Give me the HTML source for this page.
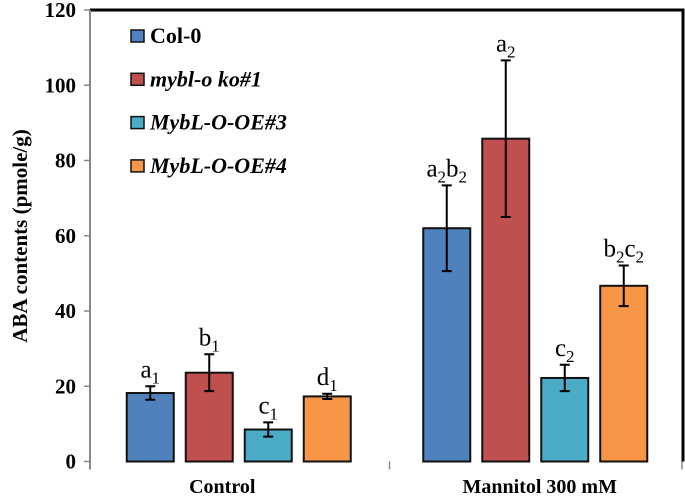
<!DOCTYPE html>
<html><head><meta charset="utf-8"><style>
body{margin:0;background:#fff}
svg{display:block}
text{font-family:"Liberation Serif","Times New Roman",serif}
</style></head><body>
<svg width="685" height="499" id="c" font-family="Liberation Serif, serif">
<g id="g"></g>
</svg>
<script>
const categories=["Control","Mannitol 300 mM"];
const seriesNames=["Col-0","mybl-o ko#1","MybL-O-OE#3","MybL-O-OE#4"];
const colors=["#4f81bd","#c0504d","#4bacc6","#f79646"];
const valsCol0=[18.2,62];
const valsKo=[23.6,85.8];
const valsOE3=[8.5,22.2];
const valsOE4=[17.3,46.7];
const errCol0=[1.8,11.4];
const errKo=[4.9,20.8];
const errOE3=[1.9,3.5];
const errOE4=[0.7,5.4];
const letters=[[[["a","1"]],[["a","2"],["b","2"]]],[[["b","1"]],[["a","2"]]],[[["c","1"]],[["c","2"]]],[[["d","1"]],[["b","2"],["c","2"]]]];
const yTicks=[0,20,40,60,80,100,120];
const series=[valsCol0,valsKo,valsOE3,valsOE4];
const errs=[errCol0,errKo,errOE3,errOE4];

const X0=90,X1=683,Y0=461.5,Y1=10;
const y=v=>Y0-(v/120)*(Y0-Y1);
const catW=(X1-X0)/categories.length;
const barW=47,stride=59;
const bx=(c,s)=>X0+c*catW+catW/2-2*stride+s*stride+6-barW/2+24;
const g=document.getElementById('g');const NS="http://www.w3.org/2000/svg";
const SERIF="Liberation Serif, serif";
function mk(t,a,p){const e=document.createElementNS(NS,t);for(const k in a)e.setAttribute(k,a[k]);if(t=='text'||t=='tspan')e.setAttribute('font-family',SERIF);(p||g).appendChild(e);return e;}
let e=mk('path',{d:`M${X0} ${Y1}H${X1}V${Y0}`,fill:'none',stroke:'#000','stroke-width':3});


yTicks.forEach(t=>{
 let l=mk('line',{x1:X0-6,x2:X0,y1:y(t),y2:y(t),stroke:'#888','stroke-width':1.5});
 
 
 let tx=mk('text',{x:X0-14,y:y(t)+7,'text-anchor':'end','font-size':21,'font-weight':'bold'});
 tx.textContent=t;
 
 
});
e=mk('line',{x1:X0,x2:X0,y1:Y1,y2:Y0+8,stroke:'#888','stroke-width':2});


[0,1,2].forEach(i=>{const xx=X0+i*catW-(i==2?1:0)+(i==1?3:0);let l=mk('line',{x1:xx,x2:xx,y1:Y0,y2:Y0+8,stroke:'#888','stroke-width':1.5});
 
 });
series.forEach((vals,s)=>{vals.forEach((v,c)=>{
 const x=bx(c,s);
 let r=mk('rect',{x:x,y:y(v),width:barW,height:Y0-y(v),fill:colors[s],stroke:'#111','stroke-width':2});
 
 
 const cx=x+barW/2,hi=y(v+errs[s][c]),lo=y(v-errs[s][c]);
 let p=mk('path',{d:`M${cx} ${hi}V${lo}M${cx-5} ${hi}H${cx+5}M${cx-5} ${lo}H${cx+5}`,stroke:'#000','stroke-width':2,fill:'none'});
 
 
 let t=mk('text',{x:cx,y:hi-9,'text-anchor':'middle','font-size':25});
 letters[s][c].forEach(([a,n])=>{
  let t1=mk('tspan',{},t);t1.textContent=a;
  let t2=mk('tspan',{'font-size':17,dy:6},t);t2.textContent=n;
  let t3=mk('tspan',{dy:-6,'font-size':1},t);t3.textContent='\u200b';
 });
 
 
});});
const labOff=[-16,5];
categories.forEach((c,i)=>{let t=mk('text',{x:X0+i*catW+catW/2+labOff[i],y:493,'text-anchor':'middle','font-size':20,'font-weight':'bold'});t.textContent=c;
 
 });
e=mk('text',{transform:'translate(27,236) rotate(-90)','text-anchor':'middle','font-size':21,'font-weight':'bold'});
e.textContent='ABA contents (pmole/g)';


seriesNames.forEach((n,i)=>{
 const yy=30+i*43.3;
 let r=mk('rect',{x:131,y:yy,width:13,height:12,fill:colors[i],stroke:'#111','stroke-width':1.5});
 
 
 let t=mk('text',{x:150,y:yy+13,'font-size':22,'font-weight':'bold','font-style':i?'italic':'normal'});
 t.textContent=n;
 
 
});
</script>
</body></html>
